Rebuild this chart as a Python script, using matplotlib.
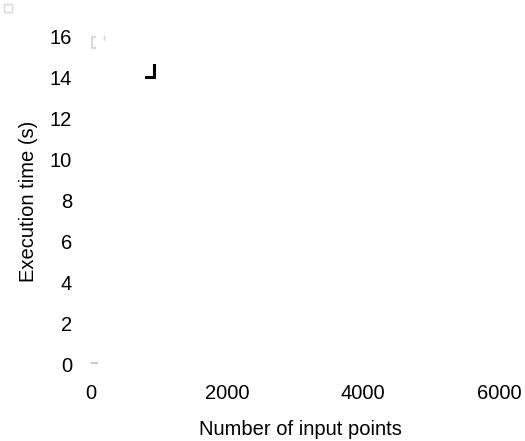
import matplotlib
matplotlib.use("Agg")
import matplotlib.pyplot as plt
from matplotlib.patches import Rectangle

plt.rcParams['font.family'] = ['Liberation Sans', 'DejaVu Sans']

# marks (data coordinates)
bracket_x = [74, 15, 15, 74]
bracket_y = [16.0, 16.0, 15.45, 15.45]
tick_x = [191, 191]
tick_y = [16.07, 15.83]
black_x = [809, 926, 926]
black_y = [14.02, 14.02, 14.62]
dash_x = [0, 103]
dash_y = [0.1, 0.1]

xticks = [0, 2000, 4000, 6000]
yticks = [0, 2, 4, 6, 8, 10, 12, 14, 16]

W, H = 525, 441
fig = plt.figure(figsize=(W / 100, H / 100), dpi=100)
left, right, top, bottom = 85, 515, 28, 375
ax = fig.add_axes([left / W, 1 - bottom / H, (right - left) / W, (bottom - top) / H])

# pixel -> data mapping: x 0 at 91px, 136px per 2000; y 0 at 365px, 20.53px per unit
ax.set_xlim((left - 91) / 0.068, (right - 91) / 0.068)
ax.set_ylim((365 - bottom) / 20.53, (365 - top) / 20.53)

ax.plot(bracket_x, bracket_y, color='#d4d4d4', lw=1.3, solid_capstyle='butt')
ax.plot(tick_x, tick_y, color='#d4d4d4', lw=1.0, solid_capstyle='butt')
ax.plot(black_x, black_y, color='black', lw=2.2, solid_joinstyle='miter')
ax.plot(dash_x, dash_y, color='#c8c8c8', lw=1.5, solid_capstyle='butt')

for s in ax.spines.values():
    s.set_visible(False)
ax.set_xticks(xticks)
ax.set_yticks(yticks)
ax.tick_params(axis='x', length=0, labelsize=14.5, pad=6.5)
ax.tick_params(axis='y', length=0, labelsize=14.5, pad=9.4)
ax.set_xlabel("Number of input points", fontsize=14.5, labelpad=12)
ax.set_ylabel("Execution time (s)", fontsize=14.5, labelpad=8)

# empty legend box in the corner
fig.patches.append(Rectangle((4 / W, 1 - 12 / H), 8 / W, 8 / H, transform=fig.transFigure,
                             fill=False, edgecolor='#d8d8d8', lw=1.0))

fig.savefig("out.png", dpi=100)
